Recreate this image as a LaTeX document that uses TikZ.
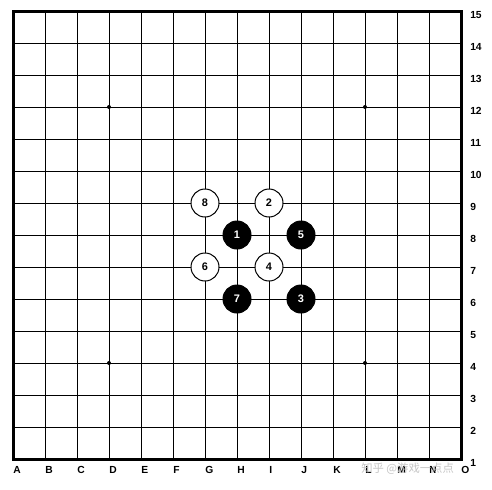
\documentclass[tikz,border=0pt]{standalone}
\usepackage{fontspec}
\setmainfont{Liberation Sans}
\newfontfamily\cjk{Noto Sans CJK SC}
\begin{document}
\begin{tikzpicture}[x=0.75pt,y=-0.75pt,
  gridline/.style={line width=0.75pt,black},
  border/.style={line width=2.25pt,black,line cap=rect},
  lab/.style={font=\fontsize{7.7}{9}\selectfont\bfseries,inner sep=0pt},
  blackstone/.style={circle,fill=black,draw=black,line width=0.75pt,minimum size=21pt,inner sep=0pt,text=white,font=\fontsize{8.2}{9}\selectfont\bfseries},
  whitestone/.style={circle,fill=white,draw=black,line width=0.75pt,minimum size=21pt,inner sep=0pt,text=black,font=\fontsize{8.2}{9}\selectfont\bfseries},
  star/.style={circle,fill=black,minimum size=3pt,inner sep=0pt}]
\useasboundingbox (0,0) rectangle (492,489);
\fill[white] (0,0) rectangle (492,489);
% grid
\foreach \i in {1,...,13} {
  \draw[gridline] ({13+32*\i},11) -- ({13+32*\i},459);
  \draw[gridline] (13,{11+32*\i}) -- (461,{11+32*\i});
}
\draw[border] (13,11) rectangle (461,459);
% star points
\node[star] (s1) at (109,107) {};
\node[star] (s2) at (365,107) {};
\node[star] (s3) at (109,363) {};
\node[star] (s4) at (365,363) {};
% column labels
\foreach \l [count=\i from 0] in {A,B,C,D,E,F,G,H,I,J,K,L,M,N,O} {
  \node[lab,anchor=north west] (c\i) at ({13+32*\i},466.5) {\l};
}
% row labels
\foreach \r in {1,...,15} {
  \node[lab,anchor=north west] (r\r) at (470,{11+32*(15-\r)}) {\r};
}
% stones
\node[blackstone] (m1) at (237,235) {1};
\node[whitestone] (m2) at (269,203) {2};
\node[blackstone] (m3) at (301,299) {3};
\node[whitestone] (m4) at (269,267) {4};
\node[blackstone] (m5) at (301,235) {5};
\node[whitestone] (m6) at (205,267) {6};
\node[blackstone] (m7) at (237,299) {7};
\node[whitestone] (m8) at (205,203) {8};
% watermark
\node[anchor=west,inner sep=0pt,text=gray!45,font=\cjk\fontsize{8.5}{10}\selectfont] (wm) at (361,468.5) {知乎 @游戏一点点};
\end{tikzpicture}
\end{document}
